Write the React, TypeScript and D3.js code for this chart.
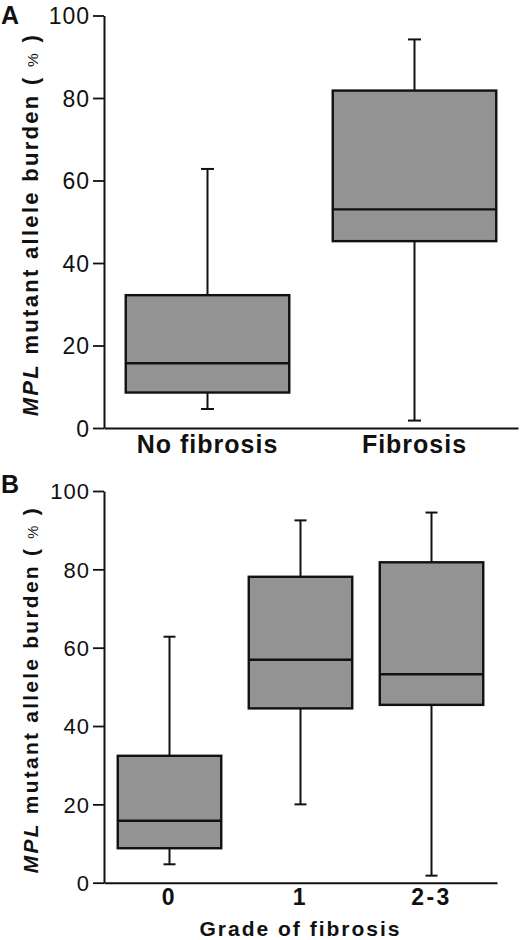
import { useRef, useEffect } from 'react';
import * as d3 from 'd3';

// shared y ticks
const yTicks = [0, 20, 40, 60, 80, 100];

// Panel A: fibrosis vs no fibrosis
const groupsA = ['No fibrosis', 'Fibrosis'];
const lowA = [4.6, 1.8];
const q1A = [8.6, 45.3];
const medianA = [15.7, 53.0];
const q3A = [32.2, 81.8];
const highA = [62.8, 94.2];

// Panel B: by grade of fibrosis
const groupsB = ['0', '1', '2-3'];
const lowB = [4.7, 20.0, 1.8];
const q1B = [8.8, 44.5, 45.4];
const medianB = [15.8, 56.9, 53.2];
const q3B = [32.4, 78.1, 81.8];
const highB = [62.8, 92.5, 94.5];

interface BoxStat {
  group: string;
  low: number;
  q1: number;
  median: number;
  q3: number;
  high: number;
}

function toStats(groups: string[], low: number[], q1: number[], median: number[], q3: number[], high: number[]): BoxStat[] {
  return groups.map((group, i) => ({ group, low: low[i], q1: q1[i], median: median[i], q3: q3[i], high: high[i] }));
}

interface PanelProps {
  letter: string;
  letterY: number;
  data: BoxStat[];
  top: number;
  bottom: number;
  left: number;
  right: number;
  tickFont: number;
  catFont: number;
  catSpacing: number;
  catOffset: number;
  capWidth: number;
  labelLength: number;
  labelFont: number;
  xTitle?: string;
  xTitleY?: number;
}

const FILL = '#939393';
const INK = '#111';
const FONT = '"Liberation Sans", Arial, sans-serif';

function BoxPanel({
  letter, letterY, data, top, bottom, left, right, tickFont, catFont, catSpacing, catOffset,
  capWidth, labelLength, labelFont, xTitle, xTitleY,
}: PanelProps) {
  const gRef = useRef<SVGGElement>(null);

  useEffect(() => {
    if (!gRef.current) return;
    const g = d3.select(gRef.current);
    g.selectAll('*').remove();

    const y = d3.scaleLinear().domain([0, 100]).range([bottom, top]);
    const x = d3.scaleBand()
      .domain(data.map((d) => d.group))
      .range([left, right])
      .padding(0);
    const boxW = x.bandwidth() * 0.79;
    const cx = (d: BoxStat) => (x(d.group) || 0) + x.bandwidth() / 2;

    // Y axis
    const yAxis = g.append('g')
      .attr('transform', `translate(${left},0)`)
      .call(d3.axisLeft(y).tickValues(yTicks).tickSize(11).tickSizeOuter(0).tickPadding(3));
    yAxis.select('.domain').attr('stroke', INK).attr('stroke-width', 2);
    yAxis.selectAll('.tick line').attr('stroke', INK).attr('stroke-width', 1.8);
    yAxis.selectAll('.tick text')
      .attr('font-size', tickFont)
      .attr('font-family', FONT)
      .attr('fill', INK)
      .attr('letter-spacing', 1)
      .attr('dy', '0.36em');

    // boxes
    const box = g.selectAll('.box')
      .data(data)
      .enter()
      .append('g');

    // whiskers
    box.append('line')
      .attr('x1', cx).attr('x2', cx)
      .attr('y1', (d) => y(d.high)).attr('y2', (d) => y(d.q3))
      .attr('stroke', INK).attr('stroke-width', 2);
    box.append('line')
      .attr('x1', cx).attr('x2', cx)
      .attr('y1', (d) => y(d.q1)).attr('y2', (d) => y(d.low))
      .attr('stroke', INK).attr('stroke-width', 2);
    box.append('line')
      .attr('x1', (d) => cx(d) - capWidth / 2).attr('x2', (d) => cx(d) + capWidth / 2)
      .attr('y1', (d) => y(d.high)).attr('y2', (d) => y(d.high))
      .attr('stroke', INK).attr('stroke-width', 2);
    box.append('line')
      .attr('x1', (d) => cx(d) - capWidth / 2).attr('x2', (d) => cx(d) + capWidth / 2)
      .attr('y1', (d) => y(d.low)).attr('y2', (d) => y(d.low))
      .attr('stroke', INK).attr('stroke-width', 2);

    box.append('rect')
      .attr('x', (d) => cx(d) - boxW / 2)
      .attr('width', boxW)
      .attr('y', (d) => y(d.q3))
      .attr('height', (d) => y(d.q1) - y(d.q3))
      .attr('fill', FILL)
      .attr('stroke', INK)
      .attr('stroke-width', 2.4);
    box.append('line')
      .attr('x1', (d) => cx(d) - boxW / 2).attr('x2', (d) => cx(d) + boxW / 2)
      .attr('y1', (d) => y(d.median)).attr('y2', (d) => y(d.median))
      .attr('stroke', INK).attr('stroke-width', 2.4);

    // X axis
    const xAxis = g.append('g')
      .attr('transform', `translate(0,${bottom})`)
      .call(d3.axisBottom(x).tickSize(0).tickSizeOuter(0));
    xAxis.select('.domain').attr('stroke', INK).attr('stroke-width', 2);
    xAxis.selectAll('.tick text')
      .attr('font-size', catFont)
      .attr('font-family', FONT)
      .attr('font-weight', 'bold')
      .attr('fill', INK)
      .attr('letter-spacing', catSpacing)
      .attr('y', catOffset)
      .attr('dy', 0);
  }, [data, top, bottom, left, right, tickFont, catFont, catSpacing, catOffset, capWidth]);

  const labelX = 38;
  const labelY = (top + bottom) / 2 + 4;

  return (
    <g>
      <text x={1} y={letterY} fontFamily={FONT} fontWeight="bold" fontSize={25} fill={INK}>{letter}</text>
      <text
        transform={`translate(${labelX},${labelY}) rotate(-90)`}
        textAnchor="middle"
        fontFamily={FONT}
        fontWeight="bold"
        fontSize={labelFont}
        fill={INK}
        textLength={labelLength}
        lengthAdjust="spacing"
      >
        <tspan fontStyle="italic">MPL</tspan> mutant allele burden ( <tspan fontSize={labelFont * 0.7} fontWeight="normal">%</tspan> )
      </text>
      <g ref={gRef} />
      {xTitle && (
        <text
          x={(left + right) / 2}
          y={xTitleY}
          textAnchor="middle"
          fontFamily={FONT}
          fontWeight="bold"
          fontSize={21}
          letterSpacing={2}
          fill={INK}
        >
          {xTitle}
        </text>
      )}
    </g>
  );
}

export default function App() {
  const dataA = toStats(groupsA, lowA, q1A, medianA, q3A, highA);
  const dataB = toStats(groupsB, lowB, q1B, medianB, q3B, highB);
  return (
    <svg
      width={520}
      height={940}
      style={{ position: 'absolute', left: 0, top: 0, background: '#fff' }}
    >
      <rect width={520} height={940} fill="#fff" />
      <BoxPanel
        letter="A"
        letterY={24}
        data={dataA}
        top={15.5}
        bottom={428}
        left={104}
        right={518}
        tickFont={23}
        catFont={25}
        catSpacing={1}
        catOffset={25}
        capWidth={13}
        labelLength={381}
        labelFont={22}
      />
      <BoxPanel
        letter="B"
        letterY={493}
        data={dataB}
        top={491}
        bottom={882.7}
        left={104}
        right={497}
        tickFont={22}
        catFont={23}
        catSpacing={2.5}
        catOffset={22}
        capWidth={12}
        labelLength={365}
        labelFont={21}
        xTitle="Grade of fibrosis"
        xTitleY={936}
      />
    </svg>
  );
}
